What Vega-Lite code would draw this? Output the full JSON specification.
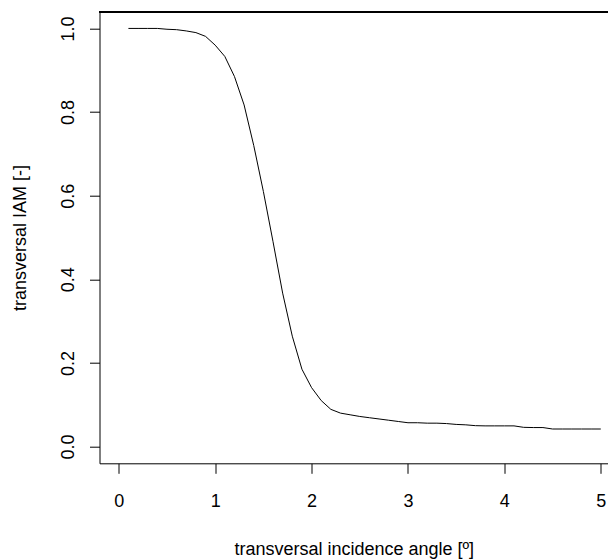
{
  "$schema": "https://vega.github.io/schema/vega-lite/v6.json",
  "autosize": {"type": "none"},
  "width": 508.5,
  "height": 451.6,
  "padding": {"left": 99.5, "top": 11.7, "right": 0, "bottom": 95.7},
  "background": "white",
  "config": {
    "view": {"stroke": null},
    "font": "Liberation Sans",
    "axis": {
      "grid": false,
      "domainColor": "black",
      "domainWidth": 1,
      "tickColor": "black",
      "tickWidth": 1,
      "tickSize": 10,
      "labelFont": "Liberation Sans",
      "labelFontSize": 18,
      "labelColor": "black",
      "titleFont": "Liberation Sans",
      "titleFontSize": 18,
      "titleFontWeight": "normal",
      "titleColor": "black"
    }
  },
  "data": {"values": [
    {"angle": 0.1, "iam": 1.0},
    {"angle": 0.2, "iam": 1.0},
    {"angle": 0.3, "iam": 1.0},
    {"angle": 0.4, "iam": 1.0},
    {"angle": 0.5, "iam": 0.998},
    {"angle": 0.6, "iam": 0.997},
    {"angle": 0.7, "iam": 0.994},
    {"angle": 0.8, "iam": 0.99},
    {"angle": 0.9, "iam": 0.981},
    {"angle": 1.0, "iam": 0.96},
    {"angle": 1.1, "iam": 0.933},
    {"angle": 1.2, "iam": 0.885},
    {"angle": 1.3, "iam": 0.817},
    {"angle": 1.4, "iam": 0.72},
    {"angle": 1.5, "iam": 0.61},
    {"angle": 1.6, "iam": 0.49},
    {"angle": 1.7, "iam": 0.367},
    {"angle": 1.8, "iam": 0.264},
    {"angle": 1.9, "iam": 0.185},
    {"angle": 2.0, "iam": 0.141},
    {"angle": 2.1, "iam": 0.11},
    {"angle": 2.2, "iam": 0.089},
    {"angle": 2.3, "iam": 0.08},
    {"angle": 2.4, "iam": 0.076},
    {"angle": 2.5, "iam": 0.072},
    {"angle": 2.6, "iam": 0.069},
    {"angle": 2.7, "iam": 0.066},
    {"angle": 2.8, "iam": 0.063},
    {"angle": 2.9, "iam": 0.06},
    {"angle": 3.0, "iam": 0.057},
    {"angle": 3.1, "iam": 0.057},
    {"angle": 3.2, "iam": 0.056},
    {"angle": 3.3, "iam": 0.056},
    {"angle": 3.4, "iam": 0.055},
    {"angle": 3.5, "iam": 0.053},
    {"angle": 3.6, "iam": 0.052},
    {"angle": 3.7, "iam": 0.05},
    {"angle": 3.8, "iam": 0.0495},
    {"angle": 3.9, "iam": 0.0495},
    {"angle": 4.0, "iam": 0.0495},
    {"angle": 4.1, "iam": 0.0495},
    {"angle": 4.2, "iam": 0.046},
    {"angle": 4.3, "iam": 0.0455},
    {"angle": 4.4, "iam": 0.0455},
    {"angle": 4.5, "iam": 0.042},
    {"angle": 4.6, "iam": 0.042},
    {"angle": 4.7, "iam": 0.042},
    {"angle": 4.8, "iam": 0.042},
    {"angle": 4.9, "iam": 0.042},
    {"angle": 5.0, "iam": 0.042}
  ]},
  "layer": [
    {
      "mark": {"type": "line", "color": "black", "strokeWidth": 1},
      "encoding": {
        "x": {
          "field": "angle", "type": "quantitative",
          "scale": {"domain": [-0.2, 5.075], "nice": false, "zero": false},
          "axis": {"values": [0, 1, 2, 3, 4, 5], "format": "d", "title": "transversal incidence angle [º]", "labelPadding": 19, "titlePadding": 30}
        },
        "y": {
          "field": "iam", "type": "quantitative",
          "scale": {"domain": [-0.04, 1.04], "nice": false, "zero": false},
          "axis": {"values": [0, 0.2, 0.4, 0.6, 0.8, 1.0], "format": ".1f", "title": "transversal IAM [-]", "labelAngle": -90, "labelPadding": 12, "titlePadding": 30}
        }
      }
    },
    {
      "mark": {"type": "rule", "color": "black", "strokeWidth": 1},
      "encoding": {
        "x": {"datum": -0.2, "type": "quantitative"},
        "x2": {"datum": 5.075},
        "y": {"datum": 1.04, "type": "quantitative"}
      }
    }
  ]
}
